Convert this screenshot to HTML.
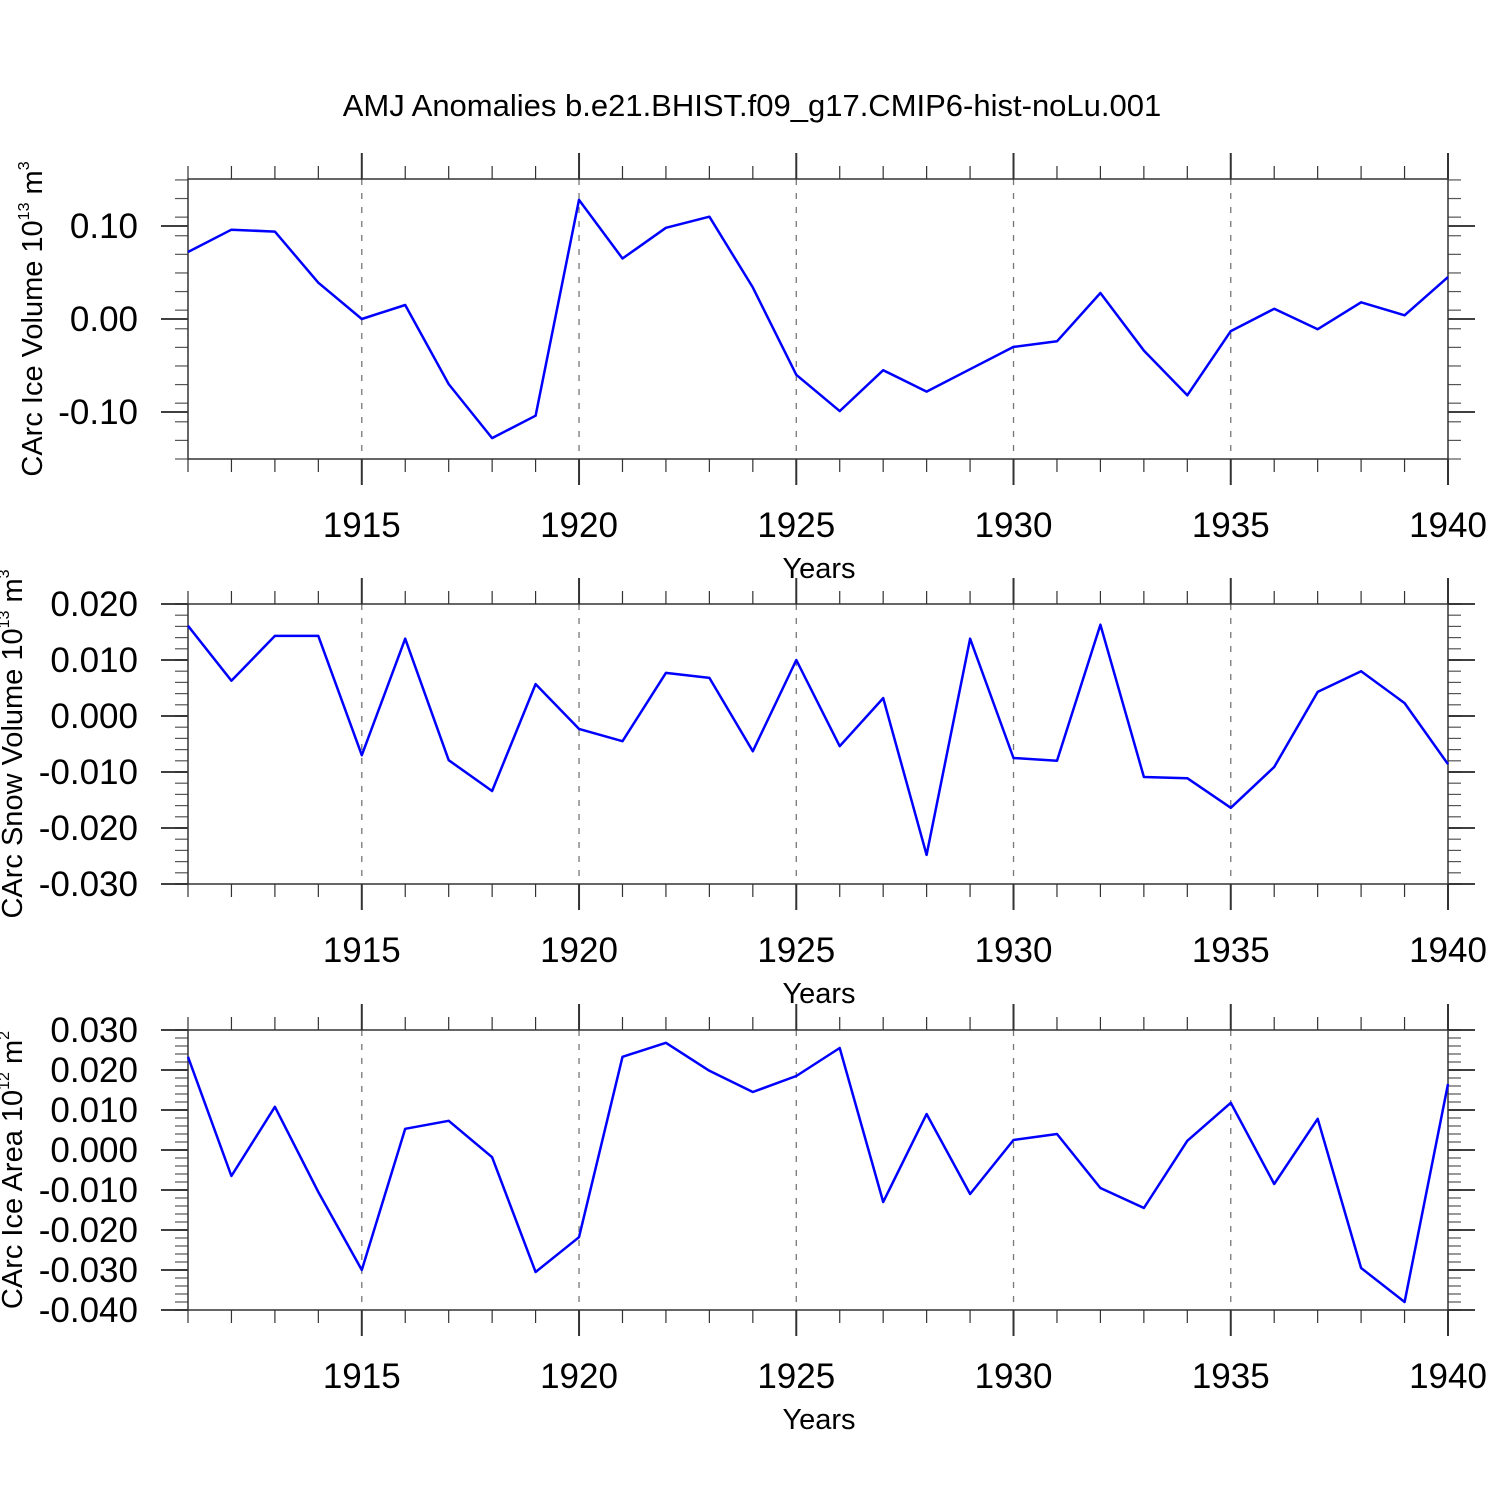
<!DOCTYPE html>
<html><head><meta charset="utf-8"><style>
html,body{margin:0;padding:0;background:#fff}
svg{display:block;font-family:"Liberation Sans",sans-serif}
</style></head><body>
<svg id="chart" width="1500" height="1500" viewBox="0 0 1500 1500">
<rect width="1500" height="1500" fill="#fff"/>
<text x="752" y="116" font-size="31" text-anchor="middle">AMJ Anomalies b.e21.BHIST.f09_g17.CMIP6-hist-noLu.001</text>
</svg>
<script>
const years = [1911,1912,1913,1914,1915,1916,1917,1918,1919,1920,1921,1922,1923,1924,1925,1926,1927,1928,1929,1930,1931,1932,1933,1934,1935,1936,1937,1938,1939,1940];
const iceVolume = [0.072,0.096,0.094,0.039,0.0,0.015,-0.070,-0.128,-0.104,0.128,0.065,0.098,0.110,0.034,-0.060,-0.099,-0.055,-0.078,-0.054,-0.030,-0.024,0.028,-0.034,-0.082,-0.013,0.011,-0.011,0.018,0.004,0.045];
const snowVolume = [0.0161,0.0063,0.0143,0.0143,-0.0070,0.0138,-0.0079,-0.0134,0.0057,-0.0023,-0.0045,0.0077,0.0068,-0.0063,0.0100,-0.0054,0.0032,-0.0248,0.0138,-0.0075,-0.0080,0.0163,-0.0109,-0.0111,-0.0164,-0.0091,0.0043,0.0080,0.0023,-0.0086];
const iceArea = [0.0233,-0.0065,0.0108,-0.0105,-0.0300,0.0053,0.0073,-0.0018,-0.0305,-0.0218,0.0233,0.0268,0.0198,0.0145,0.0185,0.0255,-0.0130,0.0090,-0.0110,0.0025,0.0040,-0.0095,-0.0145,0.0023,0.0118,-0.0085,0.0078,-0.0295,-0.0380,0.0165];
const xTickYears = [1915,1920,1925,1930,1935,1940];
const iceVolTicks = [-0.10,0.00,0.10];
const iceVolLabels = ["-0.10","0.00","0.10"];
const snowTicks = [-0.03,-0.02,-0.01,0,0.01,0.02];
const snowLabels = ["-0.030","-0.020","-0.010","0.000","0.010","0.020"];
const areaTicks = [-0.04,-0.03,-0.02,-0.01,0,0.01,0.02,0.03];
const areaLabels = ["-0.040","-0.030","-0.020","-0.010","0.000","0.010","0.020","0.030"];

const NS="http://www.w3.org/2000/svg";
const svg=document.getElementById('chart');
const X0=188,X1=1448,YMIN=1911,YMAX=1940;
const xs=y=>X0+(y-YMIN)/(YMAX-YMIN)*(X1-X0);
function mk(tag,attrs,parent){const e=document.createElementNS(NS,tag);for(const k in attrs)e.setAttribute(k,attrs[k]);(parent||svg).appendChild(e);return e;}

function panel(key,top,vmin,vmax,ticks,labels,minorStep,values,titleParts,titleX){
  const bot=top+280;
  const g=mk('g',{});
  
  
  const ys=v=>bot-(v-vmin)/(vmax-vmin)*280;
  xTickYears.forEach(yr=>{ if(yr>YMIN&&yr<YMAX){const l=mk('line',{x1:xs(yr),x2:xs(yr),y1:top,y2:bot,stroke:'#777','stroke-width':1.3,'stroke-dasharray':'6,8'},g);
    
    }});
  years.forEach(yr=>{const x=xs(yr);const major=xTickYears.includes(yr);const L=major?26:13;
    mk('line',{x1:x,x2:x,y1:top,y2:top-L,stroke:'#333','stroke-width':major?2:1.2},g);
    mk('line',{x1:x,x2:x,y1:bot,y2:bot+L,stroke:'#333','stroke-width':major?2:1.2},g);});
  const n=Math.round((vmax-vmin)/minorStep);
  for(let i=0;i<=n;i++){const v=vmin+i*minorStep;const y=ys(v);
    mk('line',{x1:X0,x2:X0-13,y1:y,y2:y,stroke:'#555','stroke-width':1.2},g);
    mk('line',{x1:X1,x2:X1+13,y1:y,y2:y,stroke:'#555','stroke-width':1.2},g);}
  ticks.forEach((v,i)=>{const y=ys(v);
    mk('line',{x1:X0,x2:X0-27,y1:y,y2:y,stroke:'#000','stroke-width':1.5},g);
    mk('line',{x1:X1,x2:X1+27,y1:y,y2:y,stroke:'#000','stroke-width':1.5},g);
    const t=mk('text',{x:138,y:y+12,'font-size':35,'text-anchor':'end'},g);t.textContent=labels[i];
    
    });
  mk('rect',{x:X0,y:top,width:X1-X0,height:280,fill:'none',stroke:'#333','stroke-width':1.5},g);
  xTickYears.forEach(yr=>{const t=mk('text',{x:xs(yr),y:bot+78,'font-size':35,'text-anchor':'middle'},g);t.textContent=yr;
    
    });
  const xt=mk('text',{x:819,y:bot+119,'font-size':29,'text-anchor':'middle'},g);xt.textContent='Years';
  
  
  const yt=mk('text',{transform:`translate(${titleX},${top+140}) rotate(-90)`,'font-size':29,'text-anchor':'middle'},g);
  
  
  const a=mk('tspan',{},yt);a.textContent=titleParts[0];
  const s=mk('tspan',{'font-size':16,dy:-13},yt);s.textContent=titleParts[1];
  const b=mk('tspan',{dy:13},yt);b.textContent=titleParts[2];
  const s2=mk('tspan',{'font-size':16,dy:-13},yt);s2.textContent=titleParts[3];
  const pts=values.map((v,i)=>xs(years[i]).toFixed(1)+','+ys(v).toFixed(1)).join(' ');
  const pl=mk('polyline',{points:pts,fill:'none',stroke:'#0000ff','stroke-width':2.5,'stroke-linejoin':'round'},g);
  
  
}
panel('ice-volume',179,-0.1505,0.1505,iceVolTicks,iceVolLabels,0.02,iceVolume,['CArc Ice Volume 10','13',' m','3'],42);
panel('snow-volume',604,-0.03,0.02,snowTicks,snowLabels,0.002,snowVolume,['CArc Snow Volume 10','13',' m','3'],22);
panel('ice-area',1030,-0.04,0.03,areaTicks,areaLabels,0.002,iceArea,['CArc Ice Area 10','12',' m','2'],22);
</script>
</body></html>
